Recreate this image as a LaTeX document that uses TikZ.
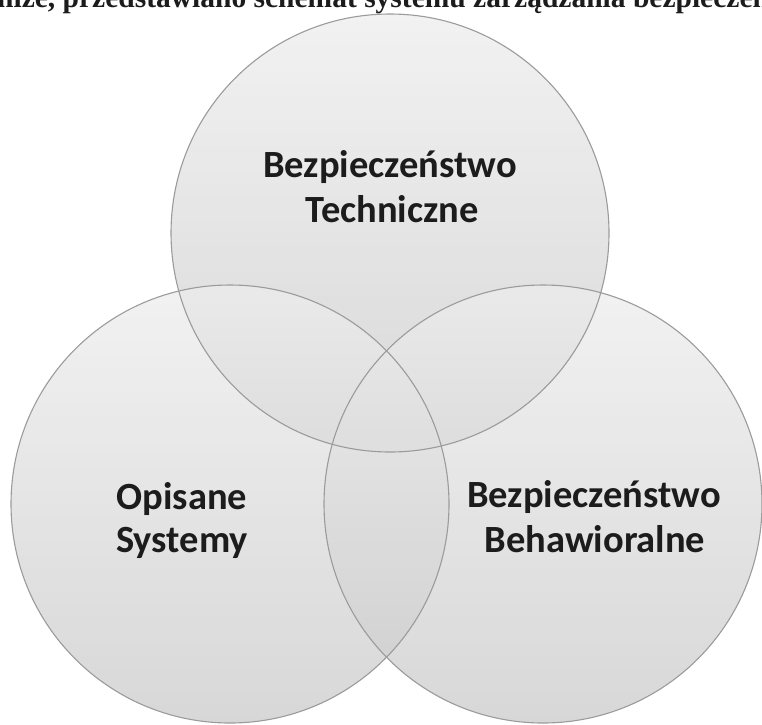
\documentclass[tikz,border=0pt]{standalone}
\usepackage{fontspec}
\setmainfont{Liberation Serif}
\newfontfamily\lblfont{Carlito}
\definecolor{ctop}{RGB}{237,237,238}
\definecolor{cbot}{RGB}{202,202,203}
\definecolor{rimgray}{RGB}{155,155,155}
\definecolor{txt}{RGB}{28,28,28}
\begin{document}
\begin{tikzpicture}[x=1pt,y=1pt,
  venn/.style={top color=ctop, bottom color=cbot, fill opacity=0.75, draw=none},
  rim/.style={draw=rimgray, line width=1.1pt},
  lbl/.style={anchor=base, inner sep=0pt, font=\lblfont\bfseries\fontsize{38.5}{46}\selectfont, text=txt},
  cut/.style={anchor=base west, inner sep=0pt, font=\bfseries\fontsize{29.5}{31}\selectfont, text=txt}]
\useasboundingbox (0,0) rectangle (762,-724);
\clip (0,0) rectangle (762,-724);
\node[cut] (cap) at (-3,-7) {nize, przedstawiano schemat systemu zarządzania bezpieczeństwem};
\coordinate (ct) at (390,-233);
\coordinate (cl) at (230,-504);
\coordinate (cr) at (543,-504);
\shade[venn] (ct) circle[radius=219];
\shade[venn] (cl) circle[radius=219];
\shade[venn] (cr) circle[radius=219];
\draw[rim] (ct) circle[radius=219];
\draw[rim] (cl) circle[radius=219];
\draw[rim] (cr) circle[radius=219];
\node[lbl] (t1) at (390,-177) {Bezpieczeństwo};
\node[lbl] (t2) at (392,-222) {Techniczne};
\node[lbl] (l1) at (182,-509) {Opisane};
\node[lbl] (l2) at (182,-552) {Systemy};
\node[lbl] (r1) at (594,-507) {Bezpieczeństwo};
\node[lbl] (r2) at (595,-552) {Behawioralne};
\end{tikzpicture}
\end{document}
